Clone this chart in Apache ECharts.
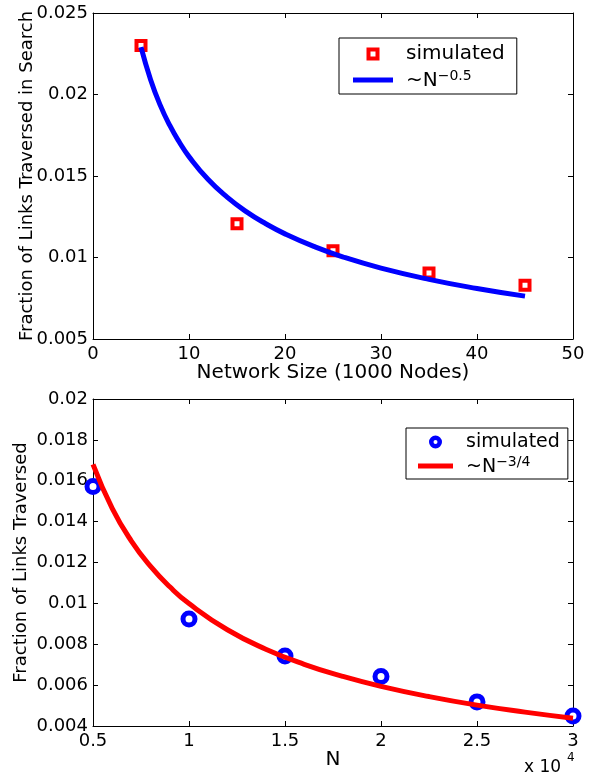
<!DOCTYPE html>
<html><head><meta charset="utf-8">
<script src="https://cdn.jsdelivr.net/npm/echarts@6/dist/echarts.min.js"></script>
<style>html,body{margin:0;padding:0;background:#fff}#c{width:592px;height:773px}</style>
</head><body><div id="c"></div>
<script>
// Top panel
const topSimX = [5, 15, 25, 35, 45];
const topSimY = [0.0230, 0.01207, 0.01042, 0.00905, 0.00829];
const topFitX = [5, 6, 7, 8, 9, 10, 12, 14, 16, 18, 20, 23, 26, 30, 35, 40, 45];
const topFitY = [0.02290, 0.02091, 0.01935, 0.01810, 0.01707, 0.01619, 0.01478, 0.01369, 0.01280, 0.01207, 0.01145, 0.01068, 0.01004, 0.00935, 0.00866, 0.00810, 0.00763];
// Bottom panel
const botSimX = [5000, 10000, 15000, 20000, 25000, 30000];
const botSimY = [0.01572, 0.00923, 0.00742, 0.00642, 0.00518, 0.00449];
const botFitX = [5000, 6000, 7000, 8000, 9000, 10000, 12000, 14000, 16000, 18000, 20000, 22500, 25000, 27500, 30000];
const botFitY = [0.01680, 0.01465, 0.01305, 0.01181, 0.01081, 0.00999, 0.00871, 0.00776, 0.00702, 0.00643, 0.00594, 0.00544, 0.00502, 0.00468, 0.00438];

const FONT = 'DejaVu Sans';
const zip = (a, b) => a.map((v, i) => [v, b[i]]);

function mainX(gi, min, max, interval, name, fmt) {
  return {
    gridIndex: gi, type: 'value', position: 'bottom', min, max, interval,
    name, nameLocation: 'middle', nameGap: 24, nameMoveOverlap: false,
    nameTextStyle: { fontFamily: FONT, fontSize: 20, color: '#000' },
    axisLine: { show: true, onZero: false, lineStyle: { color: '#000', width: 1 } },
    axisTick: { show: true, inside: true, length: 5, lineStyle: { color: '#000' } },
    axisLabel: { show: true, margin: 6, fontFamily: FONT, fontSize: 18, color: '#000', formatter: fmt },
    splitLine: { show: false }
  };
}
function sideX(gi, min, max, interval) {
  return {
    gridIndex: gi, type: 'value', position: 'top', min, max, interval,
    axisLine: { show: true, onZero: false, lineStyle: { color: '#000', width: 1 } },
    axisTick: { show: true, inside: true, length: 5, lineStyle: { color: '#000' } },
    axisLabel: { show: false }, splitLine: { show: false }
  };
}
function mainY(gi, min, max, interval, name, gap) {
  return {
    gridIndex: gi, type: 'value', position: 'left', min, max, interval,
    name, nameLocation: 'middle', nameGap: gap, nameRotate: 90, nameMoveOverlap: false,
    nameTextStyle: { fontFamily: FONT, fontSize: 18, color: '#000' },
    axisLine: { show: true, onZero: false, lineStyle: { color: '#000', width: 1 } },
    axisTick: { show: true, inside: true, length: 5, lineStyle: { color: '#000' } },
    axisLabel: { show: true, margin: 5, fontFamily: FONT, fontSize: 18, color: '#000' },
    splitLine: { show: false }
  };
}
function sideY(gi, min, max, interval) {
  return {
    gridIndex: gi, type: 'value', position: 'right', min, max, interval,
    axisLine: { show: true, onZero: false, lineStyle: { color: '#000', width: 1 } },
    axisTick: { show: true, inside: true, length: 5, lineStyle: { color: '#000' } },
    axisLabel: { show: false }, splitLine: { show: false }
  };
}

const legendText = {
  simA: '{t|simulated}', fitA: '{m|~N}{s|\u22120.5}',
  simB: '{t|simulated}', fitB: '{m|~N}{s|\u22123/4}'
};
function richFor(size) {
  return {
    t: { fontFamily: FONT, fontSize: size, color: '#000', lineHeight: 22 },
    m: { fontFamily: FONT, fontSize: size, color: '#000', lineHeight: 22, verticalAlign: 'bottom' },
    s: { fontFamily: FONT, fontSize: 14, color: '#000', lineHeight: 14, verticalAlign: 'top' }
  };
}
// legend icons: invisible moveTo extents keep the full row box, filled marks with holes
const ICON_SQ = 'path://M0,0M40,26M13.5,6.5L26.5,6.5L26.5,19.5L13.5,19.5Z M17.5,10.5L17.5,15.5L22.5,15.5L22.5,10.5Z';
const ICON_LINE_A = 'path://M0,0M40,26M0,10.5L40,10.5L40,15.5L0,15.5Z';
const ICON_CIRC = 'path://M0,0M35,24M11,12A6.5,6.5,0,1,0,24,12A6.5,6.5,0,1,0,11,12Z M15.5,12A2,2,0,1,1,19.5,12A2,2,0,1,1,15.5,12Z';
const ICON_LINE_B = 'path://M0,0M35,24M0,9.5L35,9.5L35,14.5L0,14.5Z';

const option = {
  animation: false,
  backgroundColor: '#fff',
  grid: [
    { left: 93, top: 13, width: 480, height: 326 },
    { left: 93, top: 399, width: 480, height: 327 }
  ],
  xAxis: [
    mainX(0, 0, 50, 10, 'Network Size (1000 Nodes)'),
    sideX(0, 0, 50, 10),
    mainX(1, 5000, 30000, 5000, 'N', v => String(v / 10000)),
    sideX(1, 5000, 30000, 5000)
  ],
  yAxis: [
    mainY(0, 0.005, 0.025, 0.005, 'Fraction of Links Traversed in Search', 57),
    sideY(0, 0.005, 0.025, 0.005),
    mainY(1, 0.004, 0.02, 0.002, 'Fraction of Links Traversed', 63),
    sideY(1, 0.004, 0.02, 0.002)
  ],
  legend: [
    {
      orient: 'vertical', left: 339, top: 38, selectedMode: false,
      padding: [3, 12, 1, 14], itemGap: 0, itemWidth: 40, itemHeight: 26,
      borderColor: '#000', borderWidth: 1, backgroundColor: '#fff',
      data: [
        { name: 'simA', icon: ICON_SQ, itemStyle: { color: '#ff0000', borderWidth: 0 } },
        { name: 'fitA', icon: ICON_LINE_A, itemStyle: { color: '#0000ff', borderWidth: 0 } }
      ],
      formatter: n => legendText[n],
      textStyle: { padding: [0, 0, 0, 8], rich: richFor(20) }
    },
    {
      orient: 'vertical', left: 406, top: 428, selectedMode: false,
      padding: [2, 8, 1, 12], itemGap: 0, itemWidth: 35, itemHeight: 24,
      borderColor: '#000', borderWidth: 1, backgroundColor: '#fff',
      data: [
        { name: 'simB', icon: ICON_CIRC, itemStyle: { color: '#0000ff', borderWidth: 0 } },
        { name: 'fitB', icon: ICON_LINE_B, itemStyle: { color: '#ff0000', borderWidth: 0 } }
      ],
      formatter: n => legendText[n],
      textStyle: { padding: [0, 0, 0, 8], rich: richFor(19) }
    }
  ],
  graphic: [
    { type: 'text', left: 524, top: 759, style: { text: 'x 10', fontFamily: FONT, fontSize: 17, fill: '#000' } },
    { type: 'text', left: 567, top: 752, style: { text: '4', fontFamily: FONT, fontSize: 12, fill: '#000' } }
  ],
  series: [
    {
      name: 'simA', type: 'scatter', xAxisIndex: 0, yAxisIndex: 0, clip: false,
      data: zip(topSimX, topSimY), symbol: 'rect', symbolSize: 9, z: 2,
      itemStyle: { color: '#ffffff', borderColor: '#ff0000', borderWidth: 4, opacity: 1 }
    },
    {
      name: 'fitA', type: 'line', xAxisIndex: 0, yAxisIndex: 0, smooth: true,
      data: zip(topFitX, topFitY), showSymbol: false, symbol: 'none', z: 3,
      lineStyle: { color: '#0000ff', width: 5 }, itemStyle: { color: '#0000ff' }
    },
    {
      name: 'simB', type: 'scatter', xAxisIndex: 2, yAxisIndex: 2, clip: false,
      data: zip(botSimX, botSimY), symbol: 'circle', symbolSize: 12, z: 2,
      itemStyle: { color: '#ffffff', borderColor: '#0000ff', borderWidth: 5, opacity: 1 }
    },
    {
      name: 'fitB', type: 'line', xAxisIndex: 2, yAxisIndex: 2, smooth: true,
      data: zip(botFitX, botFitY), showSymbol: false, symbol: 'none', z: 3,
      lineStyle: { color: '#ff0000', width: 5 }, itemStyle: { color: '#ff0000' }
    }
  ]
};
const chart = echarts.init(document.getElementById('c'), null, { renderer: 'canvas' });
chart.setOption(option);
</script>
</body></html>
